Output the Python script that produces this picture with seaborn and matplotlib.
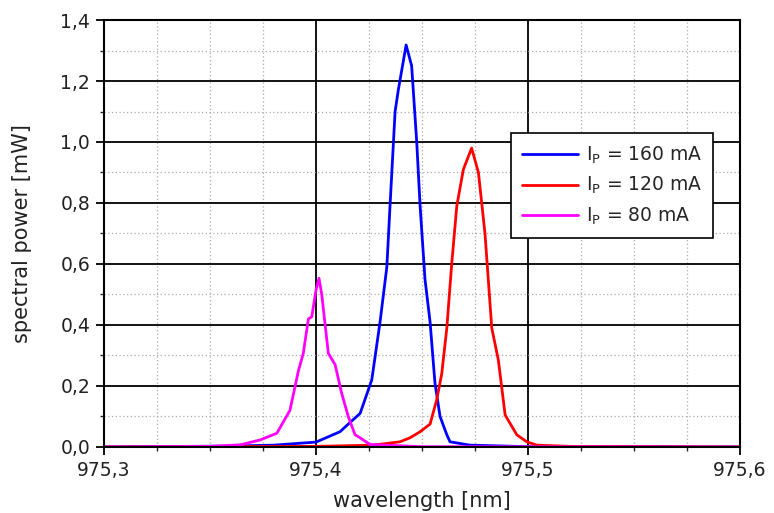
import numpy as np
import pandas as pd
import matplotlib
matplotlib.use("Agg")
import matplotlib.pyplot as plt
import seaborn as sns
from matplotlib.ticker import MultipleLocator, FuncFormatter

# spectra (wavelength in nm, power in mW)
wl_160 = [975.30, 975.36, 975.38, 975.40, 975.4113, 975.4160, 975.4208, 975.4263,
          975.4302, 975.4334, 975.4349, 975.4373, 975.4388, 975.4425, 975.4451,
          975.4475, 975.4491, 975.4514, 975.4538, 975.4561, 975.4585, 975.4617,
          975.4632, 975.4726, 975.50, 975.60]
p_160 = [0.0, 0.003, 0.006, 0.016, 0.05, 0.08, 0.11, 0.22,
         0.41, 0.59, 0.79, 1.10, 1.17, 1.318, 1.25,
         1.00, 0.79, 0.55, 0.41, 0.21, 0.10, 0.04,
         0.017, 0.006, 0.001, 0.0]

wl_120 = [975.30, 975.40, 975.4269, 975.4396, 975.4443, 975.4491, 975.4538, 975.4569,
          975.4593, 975.4617, 975.4640, 975.4664, 975.4695, 975.4734, 975.4766,
          975.4797, 975.4829, 975.4860, 975.4892, 975.4947, 975.4994, 975.5041,
          975.52, 975.60]
p_120 = [0.0, 0.002, 0.006, 0.017, 0.03, 0.05, 0.075, 0.154,
         0.24, 0.39, 0.60, 0.79, 0.91, 0.98, 0.90,
         0.70, 0.39, 0.285, 0.105, 0.04, 0.017, 0.006,
         0.002, 0.0]

wl_80 = [975.30, 975.35, 975.3642, 975.3736, 975.3815, 975.3877, 975.3917, 975.3940,
         975.3964, 975.3980, 975.4000, 975.4014, 975.4027, 975.4058, 975.4090,
         975.4121, 975.4152, 975.4184, 975.4208, 975.4255, 975.45, 975.60]
p_80 = [0.0, 0.002, 0.007, 0.023, 0.045, 0.12, 0.25, 0.307,
        0.42, 0.427, 0.515, 0.553, 0.50, 0.307, 0.27,
        0.176, 0.10, 0.04, 0.03, 0.008, 0.001, 0.0]

labels = [r"I$_\mathrm{P}$ = 160 mA", r"I$_\mathrm{P}$ = 120 mA", r"I$_\mathrm{P}$ = 80 mA"]
colors = ["#0000ff", "#ff0000", "#ff00ff"]

frames = []
for lab, wl, p in zip(labels, [wl_160, wl_120, wl_80], [p_160, p_120, p_80]):
    frames.append(pd.DataFrame({"wl": wl, "p": p, "curve": lab}))
df = pd.concat(frames, ignore_index=True)

sns.set_style("white")
plt.rcParams["font.family"] = ["DejaVu Sans"]
plt.rcParams["mathtext.fontset"] = "dejavusans"

fig = plt.figure(figsize=(7.74, 5.13), dpi=100)
ax = fig.add_axes([0.1344, 0.1287, 0.8217, 0.8323])

sns.lineplot(data=df, x="wl", y="p", hue="curve", palette=colors,
             hue_order=labels, sort=False, linewidth=2, ax=ax)

ax.set_xlim(975.3, 975.6)
ax.set_ylim(0, 1.4)
ax.xaxis.set_major_locator(MultipleLocator(0.1))
ax.xaxis.set_minor_locator(MultipleLocator(0.025))
ax.yaxis.set_major_locator(MultipleLocator(0.2))
ax.yaxis.set_minor_locator(MultipleLocator(0.1))
ax.xaxis.set_major_formatter(FuncFormatter(lambda v, pos: f"{v:.1f}".replace(".", ",")))
ax.yaxis.set_major_formatter(FuncFormatter(lambda v, pos: f"{v:.1f}".replace(".", ",")))

ax.grid(which="major", color="black", linewidth=1.3, linestyle="-")
ax.grid(which="minor", color="#aaaaaa", linewidth=0.9, linestyle=(0, (1, 2)))
ax.set_axisbelow(True)

for s in ax.spines.values():
    s.set_color("black")
    s.set_linewidth(1.5)

ax.tick_params(which="major", direction="out", length=6, width=1.3, labelsize=13.5,
               bottom=True, left=True, colors="black", labelcolor="#222222", pad=4)
ax.tick_params(which="minor", direction="out", length=3, width=1.0,
               bottom=True, left=True)

ax.set_xlabel("wavelength [nm]", fontsize=15, color="#222222", labelpad=8)
ax.set_ylabel("spectral power [mW]", fontsize=15, color="#222222", labelpad=20)

leg = ax.legend(loc="upper right", bbox_to_anchor=(0.958, 0.735), fontsize=13.5,
                frameon=True, fancybox=False, edgecolor="black", framealpha=1,
                handlelength=3.0, handletextpad=0.4, labelspacing=0.5,
                borderpad=0.6, borderaxespad=0)
leg.get_frame().set_linewidth(1.2)

fig.savefig("out.png", dpi=100)
